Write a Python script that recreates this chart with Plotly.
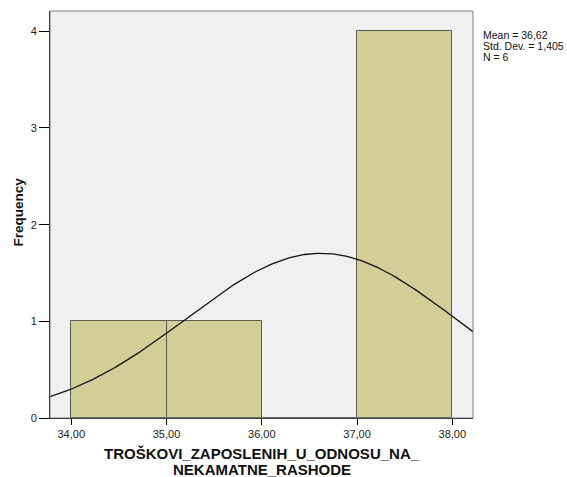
import numpy as np
import plotly.graph_objects as go

# Histogram of TROŠKOVI_ZAPOSLENIH_U_ODNOSU_NA_NEKAMATNE_RASHODE
bin_edges = [34.0, 35.0, 36.0, 37.0, 38.0]
bin_counts = [1, 1, 0, 4]
mean_value = 36.62
std_dev = 1.405
n_obs = 6
x_ticks = [34.0, 35.0, 36.0, 37.0, 38.0]
x_tick_labels = ["34,00", "35,00", "36,00", "37,00", "38,00"]
y_ticks = [0, 1, 2, 3, 4]
x_title_lines = ["TROŠKOVI_ZAPOSLENIH_U_ODNOSU_NA_", "NEKAMATNE_RASHODE"]
y_title = "Frequency"

FONT = "Liberation Sans, Arial, sans-serif"
W, H = 567, 477
M = dict(l=50, r=94, t=11, b=59)

centers = [(a + b) / 2 for a, b in zip(bin_edges[:-1], bin_edges[1:])]
widths = [b - a for a, b in zip(bin_edges[:-1], bin_edges[1:])]

fig = go.Figure()
fig.add_trace(go.Bar(
    x=centers, y=bin_counts, width=widths,
    marker=dict(color="#D3CE98", line=dict(color="#5a5a50", width=1)),
    hoverinfo="x+y", showlegend=False,
))

# Fitted normal curve scaled to counts (N * bin width * pdf)
x_rng = [33.777, 38.217]
xs = np.linspace(x_rng[0], x_rng[1], 300)
bw = widths[0]
ys = n_obs * bw / (std_dev * np.sqrt(2 * np.pi)) * np.exp(-0.5 * ((xs - mean_value) / std_dev) ** 2)
fig.add_trace(go.Scatter(x=xs, y=ys, mode="lines", line=dict(color="#111111", width=1.3),
                         hoverinfo="skip", showlegend=False))

plot_h = H - M["t"] - M["b"]
plot_w = W - M["l"] - M["r"]

def py(px_from_top):
    # paper y for a pixel row measured from the top of the page
    return (H - M["b"] - px_from_top) / plot_h

def px(px_from_left):
    return (px_from_left - M["l"]) / plot_w

stats_lines = [
    "Mean = " + f"{mean_value:.2f}".replace(".", ","),
    "Std. Dev. = " + f"{std_dev:.3f}".replace(".", ","),
    f"N = {n_obs}",
]

annotations = []
for i, line in enumerate(stats_lines):
    annotations.append(dict(
        xref="paper", yref="paper", x=px(481), y=py(35.5 + 10.5 * i),
        xanchor="left", yanchor="middle", align="left", showarrow=False,
        text=line, font=dict(family=FONT, size=10.5, color="#111111")))

annotations += [
    dict(xref="paper", yref="paper", x=px(262), y=py(453), xanchor="center", yanchor="middle",
         showarrow=False, text=f"<b>{x_title_lines[0]}</b>",
         font=dict(family=FONT, size=15, color="#111111")),
    dict(xref="paper", yref="paper", x=px(262), y=py(469), xanchor="center", yanchor="middle",
         showarrow=False, text=f"<b>{x_title_lines[1]}</b>",
         font=dict(family=FONT, size=15, color="#111111")),
    dict(xref="paper", yref="paper", x=px(18), y=py(212.5), xanchor="center", yanchor="middle",
         showarrow=False, textangle=-90, text=f"<b>{y_title}</b>",
         font=dict(family=FONT, size=13.5, color="#111111")),
]

fig.update_layout(
    width=W, height=H,
    margin=M,
    paper_bgcolor="white", plot_bgcolor="#F0F0F0",
    separators=",.",
    font=dict(family=FONT, size=11, color="#222222"),
    bargap=0,
    xaxis=dict(
        range=x_rng, tickvals=x_ticks, ticktext=x_tick_labels, automargin=False,
        showgrid=False, zeroline=False, showline=True, linecolor="#000000", linewidth=1,
        ticks="outside", ticklen=6, tickcolor="#000000",
        tickfont=dict(family=FONT, size=11, color="#222222"),
    ),
    yaxis=dict(
        range=[0, 4.21], tickvals=y_ticks, automargin=False,
        showgrid=False, zeroline=False, showline=True, linecolor="#000000", linewidth=1,
        ticks="outside", ticklen=10, tickcolor="#000000",
        tickfont=dict(family=FONT, size=11, color="#222222"),
    ),
    shapes=[dict(type="rect", xref="paper", yref="paper", x0=0, x1=1, y0=0, y1=1,
                 line=dict(color="#808080", width=1), layer="above")],
    annotations=annotations,
)

fig.write_html("out.html")
